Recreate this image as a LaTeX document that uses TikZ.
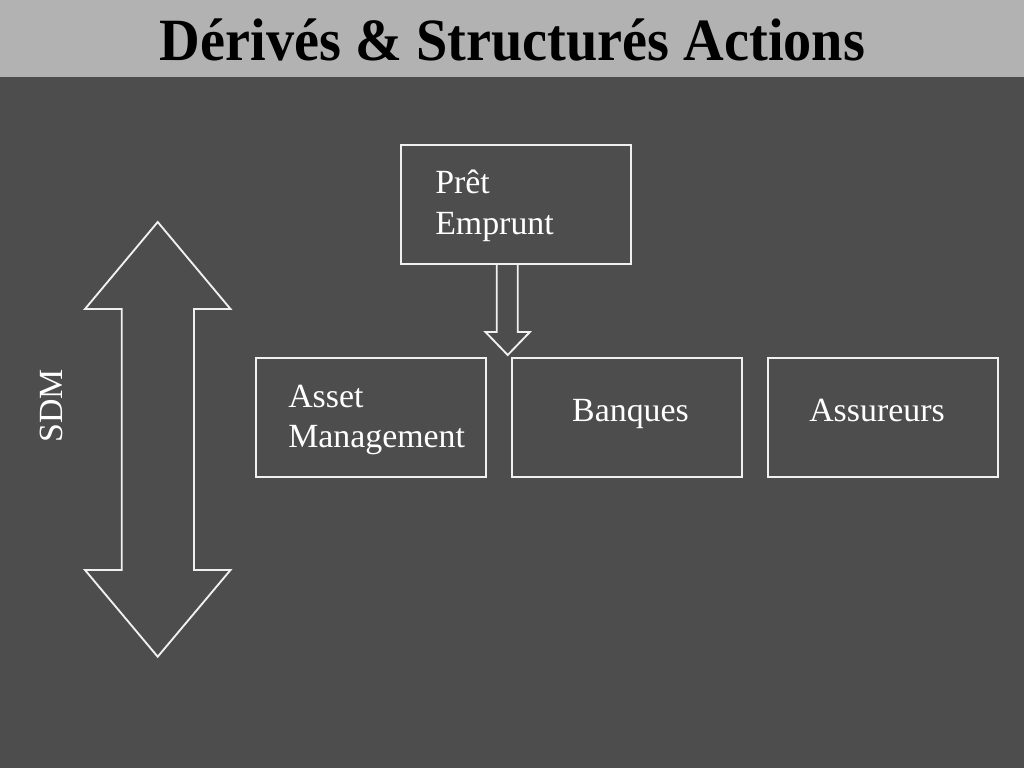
\documentclass[tikz,border=0pt]{standalone}
\usepackage{fontspec}
\setmainfont{Liberation Serif}
\usepackage{graphicx}
\definecolor{bgdark}{HTML}{4D4D4D}
\definecolor{barlight}{HTML}{B2B2B2}
\definecolor{edge}{HTML}{F0F0F0}
\tikzset{
  boxnode/.style={draw=edge, line width=1.4pt, minimum width=230*0.75pt, minimum height=119*0.75pt, inner sep=0pt},
  boxtext/.style={text=white, font=\fontsize{25.4}{30}\selectfont, inner sep=0pt},
  blockarrow/.style={draw=edge, line width=1.4pt, line join=miter}
}
\begin{document}
\begin{tikzpicture}[x=0.75pt,y=-0.75pt]
\useasboundingbox (0,0) rectangle (1024,768);
\fill[bgdark] (0,0) rectangle (1024,768);
\fill[barlight] (0,0) rectangle (1024,77);
\node[anchor=base, inner sep=0pt] (title) at (512.5,60)
  {\resizebox{528.75pt}{\height}{\fontsize{45}{50}\selectfont\bfseries Dérivés \& Structurés Actions}};

% boxes
\node[boxnode] (pret) at (516,204.5) {};
\node[boxnode] (asset) at (371.25,417.75) {};
\node[boxnode] (banques) at (627.25,417.75) {};
\node[boxnode] (assureurs) at (883.25,417.75) {};

% texts
\node[boxtext, anchor=base west] (t1) at (435,193) {Prêt};
\node[boxtext, anchor=base west] (t2) at (435,234) {Emprunt};
\node[boxtext, anchor=base west] (t3) at (288,407) {Asset};
\node[boxtext, anchor=base west] (t4) at (288,447.5) {Management};
\node[boxtext, anchor=base] (t5) at (630.5,421.5) {Banques};
\node[boxtext, anchor=base] (t6) at (877,421.5) {Assureurs};
\node[boxtext, rotate=90] (sdm) at (51,406) {SDM};

% down block arrow from Prêt/Emprunt
\draw[blockarrow] (496.7,264.3) -- (496.7,332) -- (485.5,332) -- (507.7,355)
  -- (529.9,332) -- (517.7,332) -- (517.7,264.3);

% double block arrow
\draw[blockarrow] (157.7,222) -- (230.5,309) -- (194,309) -- (194,570)
  -- (230.5,570) -- (157.7,656.7) -- (85,570) -- (121.7,570) -- (121.7,309)
  -- (85,309) -- cycle;
\end{tikzpicture}
\end{document}
